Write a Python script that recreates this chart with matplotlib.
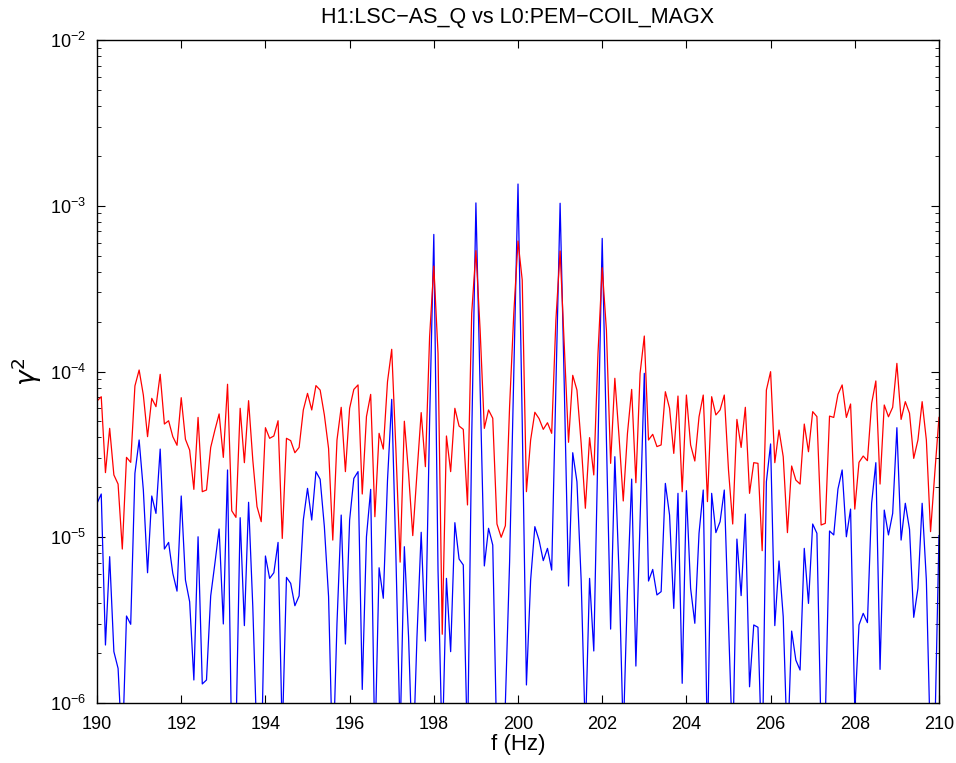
import numpy as np
import matplotlib
matplotlib.use("Agg")
import matplotlib.pyplot as plt

plt.rcParams["font.family"] = ["Liberation Sans", "DejaVu Sans"]
plt.rcParams["axes.unicode_minus"] = True

# 주파수 축 (190 ~ 210 Hz, 0.1 Hz 간격)
freq_start = 190.0
freq_step = 0.1

# log10(gamma^2) 값 - 그림에서 읽은 값
red_log = [
    -4.178, -4.152, -4.610, -4.343, -4.624, -4.679, -5.071, -4.518, -4.548, -4.087,
    -3.991, -4.142, -4.393, -4.162, -4.212, -4.017, -4.317, -4.297, -4.393, -4.445,
    -4.158, -4.409, -4.474, -4.711, -4.277, -4.725, -4.715, -4.458, -4.353, -4.256,
    -4.518, -4.077, -4.840, -4.880, -4.222, -4.550, -4.176, -4.534, -4.815, -4.906,
    -4.339, -4.403, -4.389, -4.297, -5.007, -4.403, -4.417, -4.490, -4.458, -4.232,
    -4.132, -4.232, -4.085, -4.112, -4.262, -4.464, -5.017, -4.413, -4.216, -4.604,
    -4.222, -4.108, -4.081, -4.739, -4.272, -4.138, -4.876, -4.373, -4.468, -4.061,
    -3.866, -4.474, -5.150, -4.300, -4.614, -4.990, -4.614, -4.248, -4.574, -3.790,
    -3.364, -3.890, -5.585, -4.389, -4.604, -4.222, -4.329, -4.349, -4.805, -3.649,
    -3.271, -3.750, -4.343, -4.232, -4.282, -4.920, -5.000, -4.930, -4.212, -3.649,
    -3.213, -3.448, -4.725, -4.413, -4.246, -4.284, -4.349, -4.309, -4.373, -3.689,
    -3.273, -3.850, -4.427, -4.023, -4.112, -4.433, -4.825, -4.399, -4.624, -3.890,
    -3.374, -3.750, -4.554, -4.041, -4.393, -4.781, -4.373, -4.108, -4.671, -4.011,
    -3.786, -4.413, -4.379, -4.453, -4.443, -4.122, -4.222, -4.494, -4.148, -4.725,
    -4.142, -4.443, -4.540, -4.273, -4.142, -4.785, -4.152, -4.262, -4.232, -4.142,
    -4.594, -4.920, -4.289, -4.458, -4.216, -4.735, -4.550, -4.554, -5.081, -4.112,
    -4.001, -4.550, -4.353, -4.514, -4.972, -4.570, -4.655, -4.679, -4.317, -4.484,
    -4.242, -4.272, -4.926, -4.916, -4.269, -4.277, -4.138, -4.081, -4.277, -4.196,
    -4.830, -4.548, -4.510, -4.538, -4.192, -4.057, -4.679, -4.202, -4.273, -4.216,
    -3.951, -4.289, -4.182, -4.252, -4.524, -4.413, -4.182, -4.413, -4.966, -4.614,
    -4.277,
]

blue_log = [
    -4.795, -4.739, -5.650, -5.117, -5.690, -5.791, -6.300, -5.475, -5.525, -4.614,
    -4.413, -4.715, -5.214, -4.751, -4.856, -4.468, -5.071, -5.031, -5.218, -5.325,
    -4.751, -5.258, -5.389, -5.861, -4.997, -5.885, -5.861, -5.354, -5.157, -4.950,
    -5.523, -4.594, -6.300, -6.200, -4.882, -5.533, -4.789, -5.419, -6.250, -6.400,
    -5.113, -5.248, -5.214, -5.031, -6.200, -5.242, -5.278, -5.413, -5.354, -4.896,
    -4.705, -4.896, -4.604, -4.650, -4.936, -5.358, -6.400, -5.519, -4.866, -5.644,
    -4.896, -4.645, -4.604, -5.918, -4.997, -4.711, -6.300, -5.184, -5.368, -4.655,
    -4.168, -5.117, -6.200, -5.057, -5.600, -6.400, -5.600, -4.970, -5.626, -4.300,
    -3.173, -5.200, -6.300, -5.248, -5.690, -4.912, -5.131, -5.167, -6.300, -4.400,
    -2.983, -4.100, -5.173, -4.946, -5.047, -6.300, -6.200, -6.000, -5.150, -4.000,
    -2.869, -4.300, -5.891, -5.258, -4.936, -5.017, -5.141, -5.067, -5.198, -4.090,
    -2.985, -4.100, -5.294, -4.490, -4.665, -5.258, -6.200, -5.248, -5.686, -4.453,
    -3.197, -4.410, -5.554, -4.514, -5.218, -6.200, -5.318, -4.649, -5.777, -4.896,
    -4.011, -5.264, -5.194, -5.348, -5.328, -4.675, -4.866, -5.429, -4.735, -5.881,
    -4.719, -5.308, -5.519, -4.976, -4.715, -6.300, -4.735, -4.972, -4.906, -4.715,
    -5.519, -6.300, -5.011, -5.352, -4.860, -5.902, -5.529, -5.543, -6.400, -4.665,
    -4.437, -5.533, -5.143, -5.479, -6.300, -5.566, -5.741, -5.801, -5.067, -5.399,
    -4.920, -4.976, -6.200, -6.100, -4.962, -4.986, -4.709, -4.594, -4.997, -4.830,
    -6.050, -5.529, -5.459, -5.515, -4.795, -4.550, -5.797, -4.836, -4.986, -4.856,
    -4.339, -5.017, -4.795, -4.952, -5.483, -5.308, -4.795, -5.258, -6.300, -6.200,
    -4.990,
]

xticks = [190, 192, 194, 196, 198, 200, 202, 204, 206, 208, 210]
title = "H1:LSC\u2212AS_Q vs L0:PEM\u2212COIL_MAGX"

freq = freq_start + freq_step * np.arange(len(red_log))
red = 10.0 ** np.array(red_log)
blue = 10.0 ** np.array(blue_log)

fig = plt.figure(figsize=(9.56, 7.63), dpi=100)
ax = fig.add_axes([0.1015, 0.0786, 0.8807, 0.869])

ax.semilogy(freq, blue, color="#0000ff", lw=0.9)
ax.semilogy(freq, red, color="#ff0000", lw=0.9)

ax.set_xlim(190, 210)
ax.set_ylim(1e-6, 1e-2)
ax.set_xticks(xticks)

ax.tick_params(which="both", direction="in", top=True, right=True, labelsize=13)
ax.tick_params(which="major", length=6, width=0.8)
ax.tick_params(which="minor", length=3, width=0.6)
ax.tick_params(axis="x", pad=9)
ax.tick_params(axis="y", pad=8)
for s in ax.spines.values():
    s.set_linewidth(1.0)

ax.set_title(title, fontsize=15.5, pad=12)
ax.set_xlabel("f (Hz)", fontsize=16, labelpad=1)
ax.set_ylabel(r"$\gamma^2$", fontsize=19, labelpad=4)

fig.savefig("out.png", dpi=100)
